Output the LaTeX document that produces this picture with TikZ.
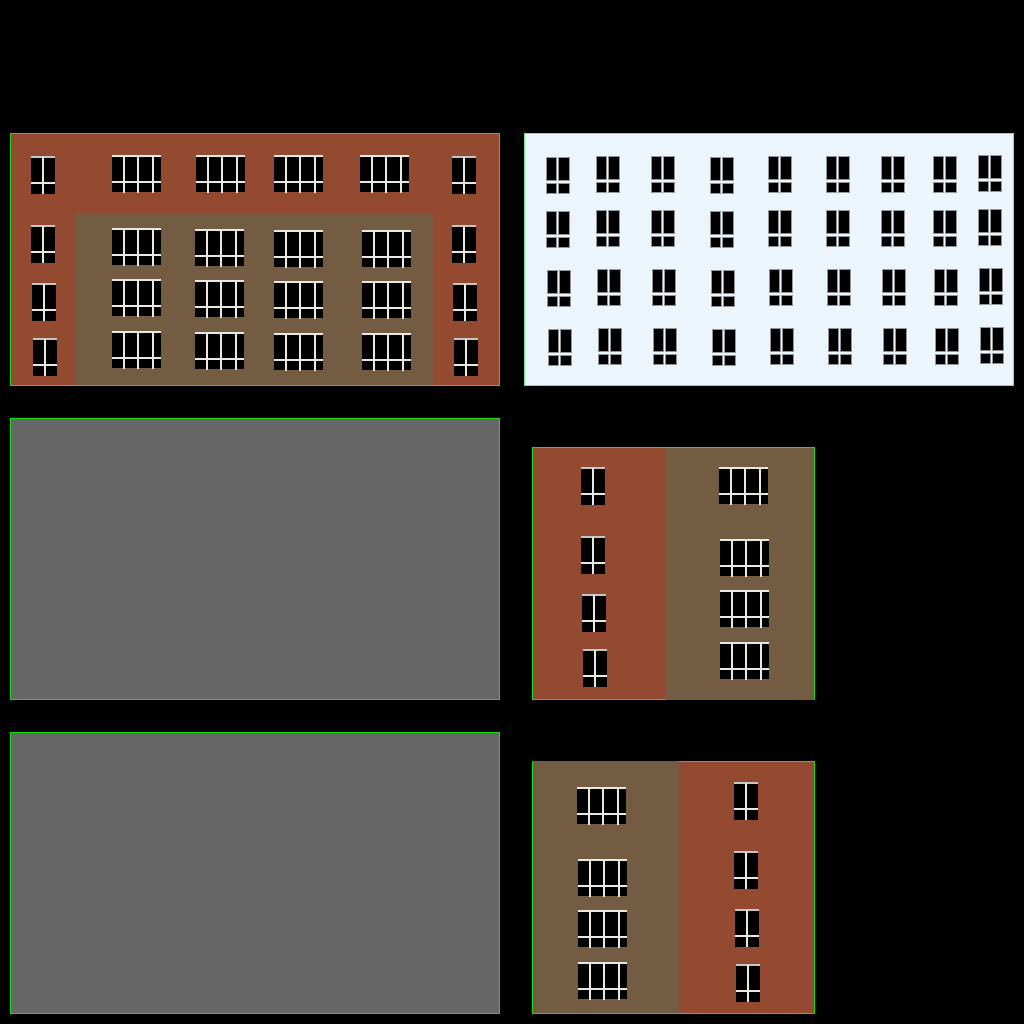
\documentclass[tikz,border=0pt]{standalone}
\definecolor{brick}{HTML}{934A30}
\definecolor{tan}{HTML}{745C43}
\definecolor{pale}{HTML}{ECF4FC}
\definecolor{concrete}{HTML}{666666}
\definecolor{edge}{HTML}{14E014}
\definecolor{glazing}{HTML}{E9E9E4}
\tikzset{
  panelline/.style={edge, line width=0.012cm},
  bar/.style={glazing, line width=0.019cm},
  palepane/.style={fill=black, draw=pale!62!black, line width=0.006cm},
}
% tall window, top left corner at pixel (#1,#2)
\newcommand{\tallwin}[2]{
  \fill[black] (#1,#2-0.3) rectangle ++(24,37);
  \draw[bar, glazing!85!black] (#1,#2+0.4) -- ++(24,0);
  \draw[bar] (#1,#2+25.8) -- ++(24,0);
  \draw[bar] (#1+12.2,#2) -- ++(0,37.2);
}
% wide window, top left corner at pixel (#1,#2)
\newcommand{\widewin}[2]{
  \fill[black] (#1,#2-0.3) rectangle ++(49,36.5);
  \draw[bar] (#1,#2+0.2) -- ++(49,0);
  \draw[bar] (#1,#2+25.7) -- ++(49,0);
  \foreach \dx in {12,26.3,41.3}
    \draw[bar] (#1+\dx,#2) -- ++(0,36.6);
}
% split window on the pale panel
\newcommand{\palewin}[2]{
  \filldraw[palepane] (#1,#2) rectangle ++(10.7,23.6);
  \filldraw[palepane] (#1+12.7,#2) rectangle ++(10.3,23.6);
  \filldraw[palepane] (#1,#2+26) rectangle ++(10.7,9.8);
  \filldraw[palepane] (#1+12.7,#2+26) rectangle ++(10.3,9.8);
}
\begin{document}
\begin{tikzpicture}[x=0.01cm, y=-0.01cm]
  \fill[black] (0,0) rectangle (1024,1024);

  % Front with the two wall colours
  \fill[brick] (10,133) rectangle (500,386);
  \fill[tan] (76,213) rectangle (434,386);
  \draw[panelline] (10.5,385.5) rectangle (499.5,133.5);
  \foreach \px/\py in {31/157,31/226,32/284,33/339,452/157,452/226,453/284,454/339}
    {\tallwin{\px}{\py}}
  \foreach \px/\py in {112/156,196/156,274/156,360/156,
                       112/229,195/230,274/231,362/231,
                       112/280,195/281,274/282,362/282,
                       112/332,195/333,274/334,362/334}
    {\widewin{\px}{\py}}

  % Pale front
  \fill[pale] (524,133) rectangle (1014,386);
  \draw[panelline, edge!55!pale] (524.5,385.5) rectangle (1013.5,133.5);
  \foreach \px/\py in {546/157,596/156,651/156,710/157,768/156,826/156,881/156,933/156,978/155,
                       546/211,596/210,651/210,710/211,768/210,826/210,881/210,933/210,978/209,
                       547/270,597/269,652/269,711/270,769/269,827/269,882/269,934/269,979/268,
                       548/329,598/328,653/328,712/329,770/328,828/328,883/328,935/328,980/327}
    {\palewin{\px}{\py}}

  % Grey panels
  \foreach \py in {418,732} {
    \fill[concrete] (10,\py) rectangle (500,\py+282);
    \draw[panelline] (10.5,\py+281.5) rectangle (499.5,\py+0.5);
  }

  % Side with brick on the left
  \fill[brick] (532,447) rectangle (666,700);
  \fill[tan] (666,447) rectangle (815,700);
  \draw[panelline] (666,699.5) -- (532.5,699.5) -- (532.5,447.5) -- (814.5,447.5) -- (814.5,700);
  \foreach \px/\py in {581/468,581/537,582/595,583/650}
    {\tallwin{\px}{\py}}
  \foreach \px/\py in {719/468,720/540,720/591,720/643}
    {\widewin{\px}{\py}}

  % Side with brick on the right
  \fill[tan] (532,761) rectangle (679,1014);
  \fill[brick] (679,761) rectangle (815,1014);
  \draw[panelline] (532.5,1014) -- (532.5,761.5);
  \draw[panelline] (679,761.5) -- (814.5,761.5) -- (814.5,1013.5) -- (532,1013.5);
  \foreach \px/\py in {734/783,734/852,735/910,736/965}
    {\tallwin{\px}{\py}}
  \foreach \px/\py in {577/788,578/860,578/911,578/963}
    {\widewin{\px}{\py}}
\end{tikzpicture}
\end{document}
